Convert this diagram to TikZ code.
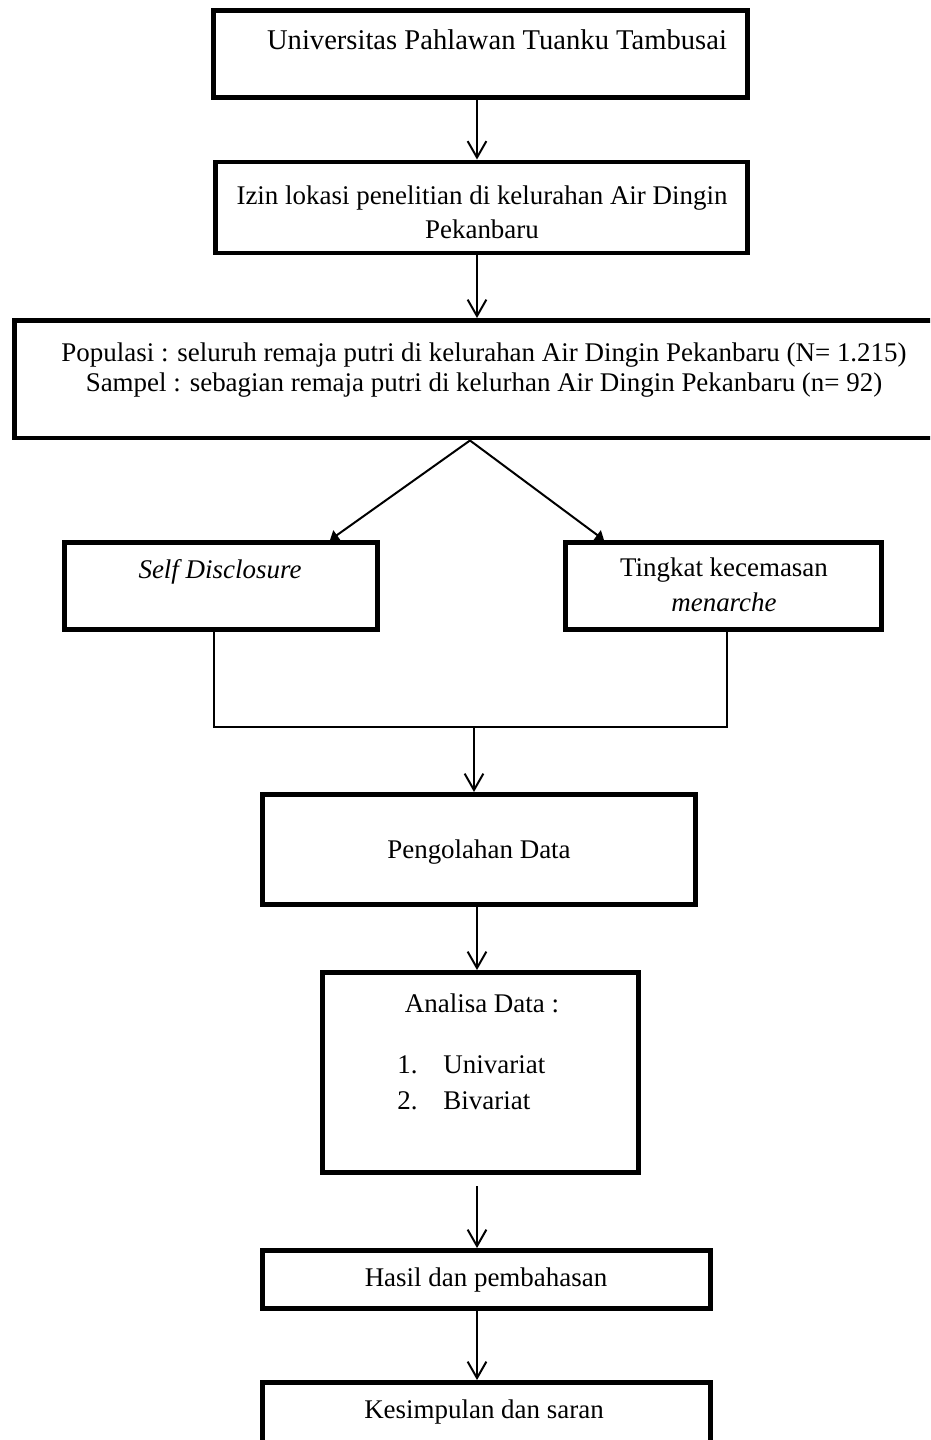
\documentclass[tikz,border=0pt]{standalone}
\usepackage{fontspec}
\setmainfont{Liberation Serif}
\usetikzlibrary{arrows.meta,fit}
\tikzset{
  box/.style={draw, line width=2.1pt, inner sep=0pt, rectangle},
  lbl/.style={inner sep=0pt, align=center, font=\fontsize{11.5}{14.5}\selectfont},
  flow/.style={line width=0.85pt, -{Straight Barb[length=7pt,width=8pt,line width=0.85pt]}},
  splitline/.style={line width=0.85pt, -{Triangle[length=3.6pt,width=5pt]}},
  joinline/.style={line width=0.55pt},
}
\begin{document}
\begin{tikzpicture}[x=0.015cm,y=-0.015cm]
\useasboundingbox (0,0) rectangle (930,1440);
\clip (0,0) rectangle (930,1440);
% boxes
\node[box, fit={(213.5,10.5) (747.5,97.5)}] (b1) {};
\node[box, fit={(215.5,162) (747.5,253)}] (b2) {};
\node[box, fit={(14.5,320.5) (960,438)}] (b3) {};
\node[box, fit={(64.5,542.5) (377.5,629.5)}] (bl) {};
\node[box, fit={(565.5,542.5) (881.5,629.5)}] (br) {};
\node[box, fit={(262.5,794.5) (695.5,904.5)}] (b5) {};
\node[box, fit={(322.5,972.5) (638.5,1172.5)}] (b6) {};
\node[box, fit={(262.5,1250.5) (710.5,1308.5)}] (b7) {};
\node[box, fit={(262.5,1382.5) (710.5,1490)}] (b8) {};
% labels
\node[lbl, font=\fontsize{12.2}{14.5}\selectfont] (t1) at (497,40) {Universitas Pahlawan Tuanku Tambusai};
\node[lbl] (t2) at (482,212) {Izin lokasi penelitian di kelurahan Air Dingin\\Pekanbaru};
\node[lbl, font=\fontsize{11.5}{12.6}\selectfont] (t3) at (484,370) {Populasi : seluruh remaja putri di kelurahan Air Dingin Pekanbaru (N= 1.215)\\Sampel : sebagian remaja putri di kelurhan Air Dingin Pekanbaru (n= 92)};
\node[lbl] (tl) at (220,572) {\itshape Self Disclosure};
\node[lbl, font=\fontsize{11.5}{15}\selectfont] (tr) at (724,585) {Tingkat kecemasan\\\itshape menarche};
\node[lbl] (t5) at (479,852) {Pengolahan Data};
\node[lbl] (t6) at (482,1003) {Analisa Data :};
\node[lbl, anchor=west] (n1) at (397,1065) {1.};
\node[lbl, anchor=west] (u1) at (443,1065) {Univariat};
\node[lbl, anchor=west] (n2) at (397,1101) {2.};
\node[lbl, anchor=west] (u2) at (443,1101) {Bivariat};
\node[lbl] (t7) at (486,1280) {Hasil dan pembahasan};
\node[lbl] (t8) at (484,1412) {Kesimpulan dan saran};
% connectors
\coordinate (c1) at (477,0);
\draw[flow] (b1.south -| c1) -- (b2.north -| c1);
\draw[flow] (b2.south -| c1) -- (b3.north -| c1);
\coordinate (sp) at (470,0);
\coordinate (dl) at (330,0);
\coordinate (dr) at (604,0);
\draw[splitline] (b3.south -| sp) -- (bl.north -| dl);
\draw[splitline] (b3.south -| sp) -- (br.north -| dr);
\coordinate (jl) at (214,727);
\coordinate (jr) at (727,727);
\coordinate (jm) at (474,727);
\draw[joinline] (bl.south -| jl) -- (jl) -- (jr) -- (br.south -| jr);
\draw[flow] (jm) -- (b5.north -| jm);
\draw[flow] (b5.south -| c1) -- (b6.north -| c1);
\coordinate (a6) at (477,1186);
\draw[flow] (a6) -- (b7.north -| a6);
\draw[flow] (b7.south -| c1) -- (b8.north -| c1);
\end{tikzpicture}
\end{document}
